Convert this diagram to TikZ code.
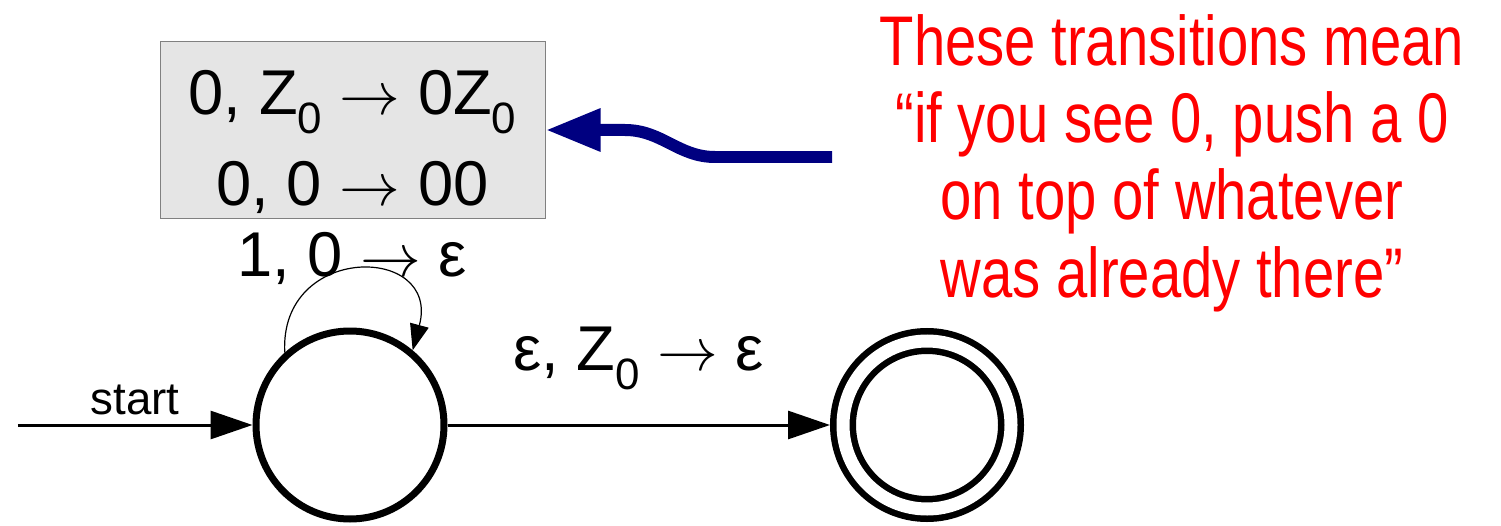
\documentclass[tikz,border=0pt]{standalone}
\usepackage{fontspec}
\setmainfont{Liberation Sans}
\newfontfamily\handfont[FakeStretch=0.8]{Liberation Sans}
\usepackage{xcolor}
\usepackage{tikz}
\usetikzlibrary{arrows.meta,positioning}
\definecolor{navy}{HTML}{000080}
\tikzset{
  qstate/.style={circle,draw=black,line width=0.07cm,minimum size=1.88cm,inner sep=0pt},
  accept/.style={circle,draw=black,line width=0.065cm,double,double distance=0.13cm,
                 minimum size=1.68cm,inner sep=0pt,outer sep=0.13cm},
  trans/.style={line width=0.03cm,-{Triangle[length=0.42cm,width=0.28cm]}},
  selfloop/.style={line width=0.012cm,-{Triangle[length=0.26cm,width=0.19cm]}},
  lbl/.style={font=\fontsize{18}{20}\selectfont},
  stackbox/.style={draw=gray,fill=black!10,line width=0.01cm,minimum width=3.85cm,
                   minimum height=1.76cm,inner ysep=0pt,align=center,
                   font=\fontsize{18}{26}\selectfont},
  note/.style={text=red,align=center,font=\handfont\fontsize{20}{22}\selectfont},
  pointer/.style={draw=navy,line width=0.12cm,-{Triangle[length=0.55cm,width=0.40cm]}},
}
\newcommand{\Zz}{Z\raisebox{-5.5pt}{\fontsize{12.5}{13}\selectfont 0}}

\begin{document}
\begin{tikzpicture}
  \useasboundingbox (0,0) rectangle (15.01,5.25);
  \node[qstate] (q0) at (3.50,1.00) {};
  \node[accept] (q1) at (9.27,1.00) {};
  \coordinate (init) at (0.18,1.00);
  \draw[trans] (init) -- node[above=-1pt,font=\fontsize{13}{15}\selectfont]{start} (q0);
  \draw[trans] (q0) -- node[lbl,above=0.22cm]{ε, \Zz{} $\rightarrow$ ε} (q1);
  \draw[selfloop] (q0.132) .. controls +(93:1.1) and +(75:1.1) .. (q0.50);
  \node[lbl] (loop) at (3.52,2.67) {1, 0 $\rightarrow$ ε};
  \node[stackbox] (push) at (3.525,3.95)
    {\rule{0pt}{0.68cm}0, \Zz{} $\rightarrow$ 0\Zz\\0, 0 $\rightarrow$ 00};
  \node[note] (note) at (11.72,3.62) {These transitions mean\\“if you see 0, push a 0\\on top of whatever\\was already there”};
  \coordinate (tail) at (8.32,3.68);
  \draw[pointer] (tail) -- (7.15,3.68) to[out=180,in=0] (6.25,3.95) -- (push.east);
\end{tikzpicture}
\end{document}
